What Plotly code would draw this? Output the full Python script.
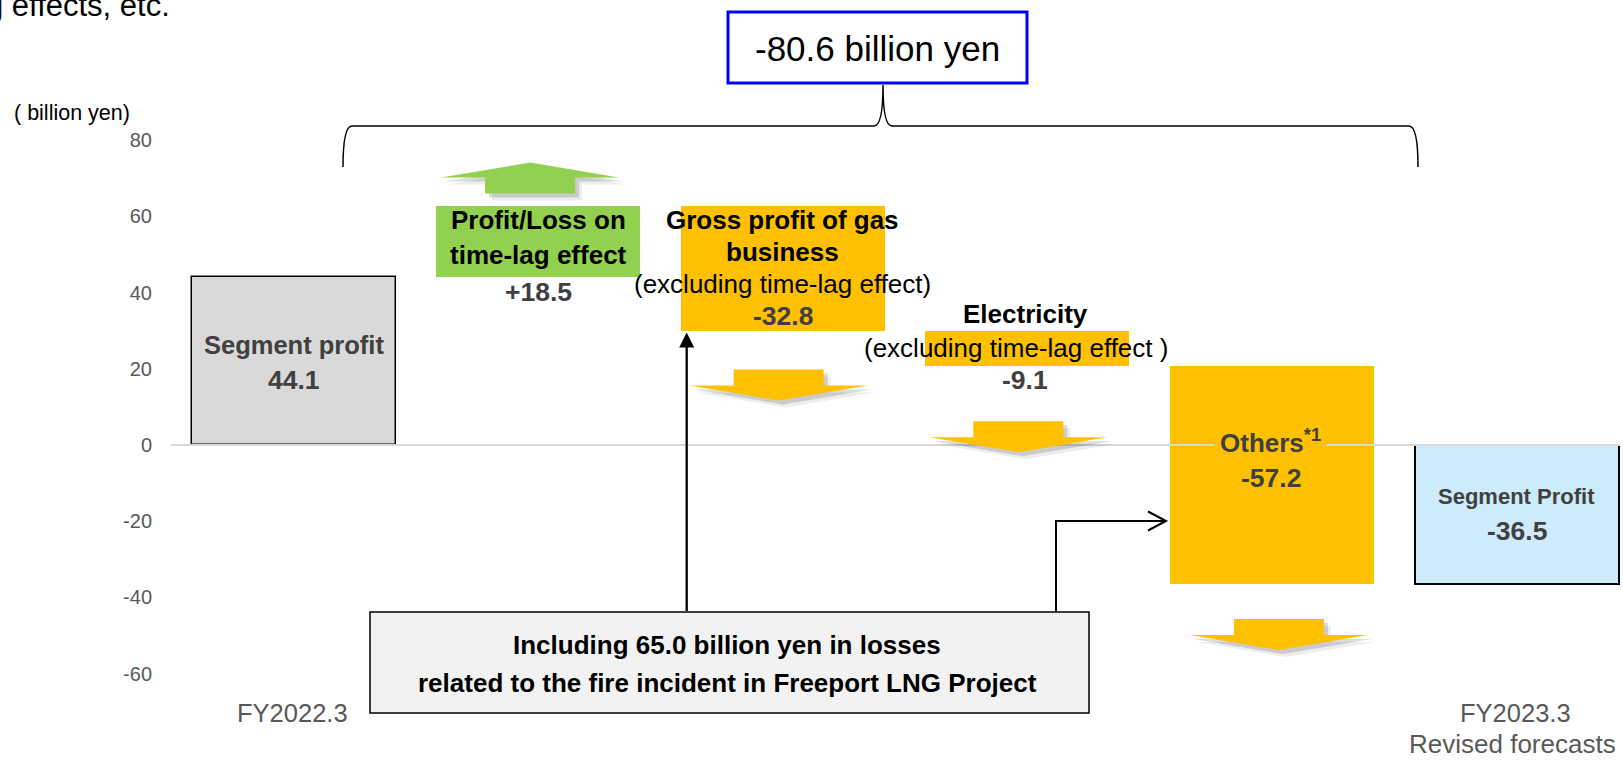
import plotly.graph_objects as go

# ---------------- data ----------------
categories = ["FY2022.3", "Profit/Loss on time-lag effect", "Gross profit of gas business",
              "Electricity", "Others", "FY2023.3 Revised forecasts"]
start_value = 44.1
changes = [18.5, -32.8, -9.1, -57.2]
end_value = -36.5
total_change_text = "-80.6 billion yen"
y_ticks = [-60, -40, -20, 0, 20, 40, 60, 80]
bar_colors = ["#D9D9D9", "#92D050", "#FFC000", "#FFC000", "#FFC000", "#CDEBFB"]
value_texts = ["44.1", "+18.5", "-32.8", "-9.1", "-57.2", "-36.5"]

# ---------------- geometry helpers (layout only) ----------------
W, H = 1623, 761
PX_L, PX_R = 171, 1623
ZERO_LINE_END = 1620
X0_PX, STEP_PX = 293.5, 244.6
ZERO_PX, PPU = 445.0, 3.81
BAR_W = 0.834


def px2x(px):
    return (px - X0_PX) / STEP_PX


def px2y(py):
    return (ZERO_PX - py) / PPU


def y2px(v):
    return ZERO_PX - v * PPU


def x2px(x):
    return X0_PX + x * STEP_PX


def px2paper_x(px):
    return (px - PX_L) / (PX_R - PX_L)


def px2paper_y(py):
    return 1 - py / H


x_range = [px2x(PX_L), px2x(PX_R)]
y_range = [px2y(H), px2y(0)]

# waterfall bases/heights from data
heights = [start_value] + changes + [end_value]
bases = [0]
cum = start_value
for d in changes:
    bases.append(cum)
    cum += d
bases.append(0)
xs = list(range(len(categories)))

ARIAL = "Liberation Sans, Arial, sans-serif"
DARK = "#404040"
TICK = "#595959"
NUM = 26.5

fig = go.Figure()
fig.add_trace(go.Bar(
    x=xs, y=heights, base=bases, width=BAR_W,
    marker=dict(color=bar_colors,
                line=dict(color=["#000000", bar_colors[1], bar_colors[2], bar_colors[3], bar_colors[4], "#000000"],
                          width=[1.5, 0, 0, 0, 0, 2])),
    hoverinfo="skip", showlegend=False,
))

shapes = []
# zero line drawn above bars
shapes.append(dict(type="line", xref="x", yref="y", x0=px2x(PX_L), x1=px2x(ZERO_LINE_END), y0=0, y1=0,
                   line=dict(color="#D9D9D9", width=2), layer="above"))


def path_from_px(points):
    return "M " + " L ".join(f"{px2x(px):.5f},{px2y(py):.5f}" for px, py in points) + " Z"


def chevron(cx, y_start, direction):
    # direction: +1 = up (y_start = bottom of shaft), -1 = down (y_start = top of shaft)
    sh, wing, shaft_len, head_len = 45, 89, 16, 15
    d = -direction
    return [(cx - sh, y_start), (cx + sh, y_start),
            (cx + sh, y_start + d * shaft_len), (cx + wing, y_start + d * shaft_len),
            (cx, y_start + d * (shaft_len + head_len)),
            (cx - wing, y_start + d * shaft_len), (cx - sh, y_start + d * shaft_len)]


# arrow placement: (bar index, x offset px, gap px)
arrow_place = [(1, -8, 13), (2, -4, 38), (3, -9, 55), (4, 7, 35)]
for idx, xoff, gap in arrow_place:
    delta = heights[idx]
    cx = x2px(idx) + xoff
    if delta > 0:
        pts = chevron(cx, y2px(bases[idx] + delta) - gap, +1)
        color = "#92D050"
    else:
        pts = chevron(cx, y2px(bases[idx] + delta) + gap, -1)
        color = "#FFC000"
    for off, alpha in [(7, 0.07), (4, 0.14)]:
        spts = [(px + off, py + off) for px, py in pts]
        shapes.append(dict(type="path", xref="x", yref="y", path=path_from_px(spts),
                           fillcolor=f"rgba(0,0,0,{alpha})", line=dict(width=0), layer="above"))
    shapes.append(dict(type="path", xref="x", yref="y", path=path_from_px(pts),
                       fillcolor=color, line=dict(width=0), layer="above"))


def P(px, py):
    return f"{px2x(px):.5f},{px2y(py):.5f}"


# bracket
br = (f"M {P(343,167)} Q {P(343,126)} {P(352,126)} L {P(874,126)} "
      f"Q {P(883,126)} {P(883,85)} Q {P(883,126)} {P(892,126)} L {P(1409,126)} "
      f"Q {P(1418,126)} {P(1418,167)}")
shapes.append(dict(type="path", xref="x", yref="y", path=br, line=dict(color="#000000", width=1.5)))

# total box
shapes.append(dict(type="rect", xref="x", yref="y", x0=px2x(728), x1=px2x(1027), y0=px2y(12), y1=px2y(83),
                   line=dict(color="#0000FF", width=3), fillcolor="white", layer="above"))

# bottom note box
shapes.append(dict(type="rect", xref="x", yref="y", x0=px2x(370), x1=px2x(1089), y0=px2y(612), y1=px2y(713),
                   line=dict(color="#000000", width=1.5), fillcolor="#F2F2F2", layer="above"))

# connector 1 (to gas bar)
cx1 = 686.7
tip_y = y2px(bases[2] + heights[2]) + 1
shapes.append(dict(type="line", xref="x", yref="y", x0=px2x(cx1), x1=px2x(cx1), y0=px2y(611), y1=px2y(tip_y + 14),
                   line=dict(color="#000000", width=2.3), layer="above"))
shapes.append(dict(type="path", xref="x", yref="y",
                   path=path_from_px([(cx1, tip_y), (cx1 + 7.5, tip_y + 15), (cx1 - 7.5, tip_y + 15)]),
                   fillcolor="#000000", line=dict(width=0), layer="above"))

# connector 2 (to others bar)
c2 = (f"M {P(1056,611)} L {P(1056,521)} L {P(1165,521)} "
      f"M {P(1148,511.5)} L {P(1166,521)} L {P(1148,530.5)}")
shapes.append(dict(type="path", xref="x", yref="y", path=c2, line=dict(color="#000000", width=2), layer="above"))

ann = []


def T(text, px, py, size, color="#000000", bold=False, paper=False, **kw):
    if paper:
        d = dict(x=px2paper_x(px), y=px2paper_y(py), xref="paper", yref="paper")
    else:
        d = dict(x=px2x(px), y=px2y(py), xref="x", yref="y")
    d.update(text=text, showarrow=False,
             xanchor=kw.pop("xanchor", "center"), yanchor=kw.pop("yanchor", "middle"),
             font=dict(family=ARIAL, size=size, color=color, weight="bold" if bold else "normal"))
    d.update(kw)
    ann.append(d)


# bar labels
T("Segment profit", x2px(0), 345, 25.5, DARK, True)
T(value_texts[0], x2px(0), 380, NUM, DARK, True)

T("Profit/Loss on", x2px(1), 220, 26, "#000000", True)
T("time-lag effect", x2px(1), 255, 26, "#000000", True)
T(value_texts[1], x2px(1), 292, NUM, DARK, True)

T("Gross profit of gas", x2px(2), 220, 26, "#000000", True)
T("business", x2px(2), 251.5, 26, "#000000", True)
T("(excluding time-lag effect)", x2px(2), 284, 26)
T(value_texts[2], x2px(2), 315.5, NUM, DARK, True)

T("Electricity", x2px(3) - 1.5, 314, 26, "#000000", True)
T("(excluding time-lag effect )", x2px(3) - 11.5, 347.5, 26)
T(value_texts[3], x2px(3) - 2, 379.5, NUM, DARK, True)

T("Others<sup>*1</sup>", x2px(4) - 1, 441, 26, DARK, True, bgcolor="#FFC000", borderpad=5)
T(value_texts[4], x2px(4) - 1, 477.5, NUM, DARK, True)

T("Segment Profit", x2px(5), 496.7, 22, DARK, True)
T(value_texts[5], x2px(5), 531, NUM, DARK, True)

T("Including 65.0 billion yen in losses", 727, 645, 26, "#000000", True)
T("related to the fire incident in Freeport LNG Project", 727, 683, 26, "#000000", True)

T("FY2022.3", x2px(0) - 1, 712.5, 25.5, TICK)
T("FY2023.3", x2px(5) - 1, 712.5, 25.5, TICK)
T("Revised forecasts", x2px(5) - 4, 744, 26, TICK)

T("( billion yen)", 72, 113, 21.5, paper=True)
T(total_change_text, 877.5, 48, 35)
T("g effects, etc.", 172, 6, 31, paper=True, xanchor="right")

fig.update_layout(
    width=W, height=H,
    margin=dict(l=PX_L, r=W - PX_R, t=0, b=0),
    paper_bgcolor="white", plot_bgcolor="white",
    showlegend=False,
    bargap=0,
    xaxis=dict(range=x_range, visible=False, fixedrange=True),
    yaxis=dict(range=y_range, tickvals=y_ticks, ticktext=[str(v) for v in y_ticks],
               showgrid=False, zeroline=False, showline=False, ticks="",
               ticklabelstandoff=18,
               tickfont=dict(family=ARIAL, size=20, color=TICK), fixedrange=True),
    shapes=shapes,
    annotations=ann,
)

fig.write_html("out.html", config={"displayModeBar": False},
               post_script="document.body.style.margin='0';")
